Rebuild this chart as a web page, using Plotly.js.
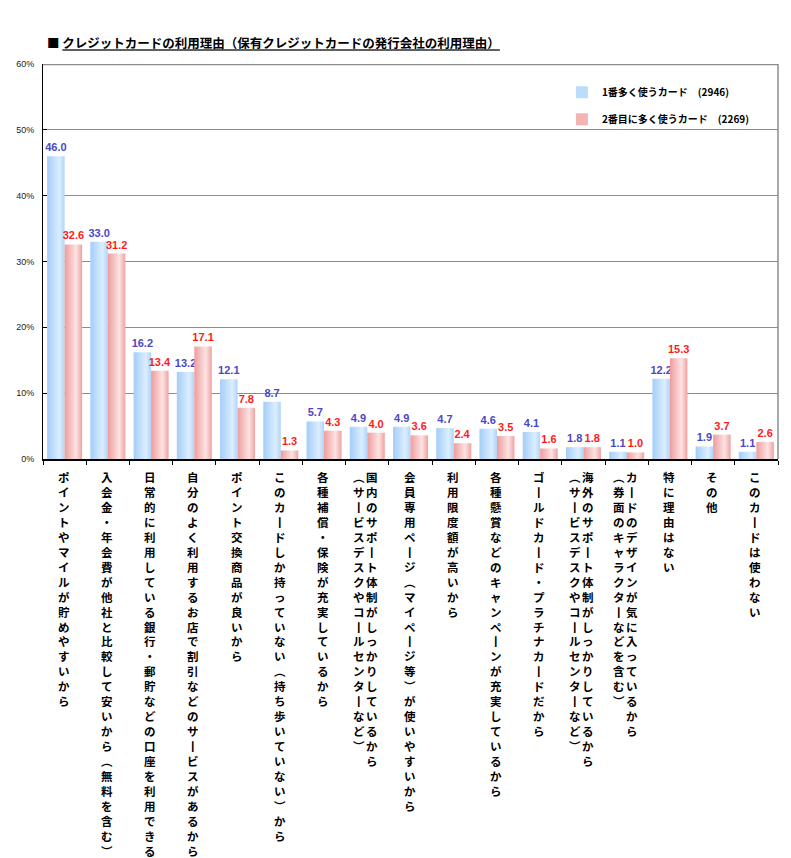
<!DOCTYPE html>
<html>
<head>
<meta charset="utf-8">
<script src="https://cdn.plot.ly/plotly-3.0.1.min.js"></script>
<style>
  html, body { margin: 0; padding: 0; background: #ffffff; }
  #chart { width: 791px; height: 858px; }
</style>
</head>
<body>
<div id="chart"></div>
<script>
// ---------- data ----------
const chartTitle = "クレジットカードの利用理由（保有クレジットカードの発行会社の利用理由）";

const categories = [
  "ポイントやマイルが貯めやすいから",
  "入会金・年会費が他社と比較して安いから（無料を含む）",
  "日常的に利用している銀行・郵貯などの口座を利用できる",
  "自分のよく利用するお店で割引などのサービスがあるから",
  "ポイント交換商品が良いから",
  "このカードしか持っていない（持ち歩いていない）から",
  "各種補償・保険が充実しているから",
  "国内のサポート体制がしっかりしているから",
  "会員専用ページ（マイページ等）が使いやすいから",
  "利用限度額が高いから",
  "各種懸賞などのキャンペーンが充実しているから",
  "ゴールドカード・プラチナカードだから",
  "海外のサポート体制がしっかりしているから",
  "カードのデザインが気に入っているから",
  "特に理由はない",
  "その他",
  "このカードは使わない"
];

const subLabels = [
  "", "", "", "", "", "", "",
  "（サービスデスクやコールセンターなど）",
  "", "", "", "",
  "（サービスデスクやコールセンターなど）",
  "（券面のキャラクターなどを含む）",
  "", "", ""
];

const seriesNames = ["1番多く使うカード　(2946)", "2番目に多く使うカード　(2269)"];

const firstCard  = [46.0, 33.0, 16.2, 13.2, 12.1, 8.7, 5.7, 4.9, 4.9, 4.7, 4.6, 4.1, 1.8, 1.1, 12.2, 1.9, 1.1];
const secondCard = [32.6, 31.2, 13.4, 17.1, 7.8, 1.3, 4.3, 4.0, 3.6, 2.4, 3.5, 1.6, 1.8, 1.0, 15.3, 3.7, 2.6];

const yTickValues = [0, 10, 20, 30, 40, 50, 60];

// ---------- helpers ----------
const verticalForms = { "ー": "丨", "（": "︵", "）": "︶", "(": "︵", ")": "︶" };
function toVertical(s) {
  return Array.from(s).map(c => verticalForms[c] || c).join("<br>");
}

const labelFont = { family: "'Noto Sans CJK JP', sans-serif", size: 11.5, color: "#000000", weight: "bold" };

const annotations = [];
categories.forEach((cat, i) => {
  const hasSub = subLabels[i] !== "";
  annotations.push({
    x: cat, xref: "x", y: 0, yref: "y",
    yanchor: "top", xanchor: "center",
    xshift: hasSub ? 5 : -1, yshift: -8,
    text: toVertical(cat), showarrow: false,
    font: labelFont, align: "center"
  });
  if (hasSub) {
    annotations.push({
      x: cat, xref: "x", y: 0, yref: "y",
      yanchor: "top", xanchor: "center",
      xshift: -8, yshift: -8,
      text: toVertical(subLabels[i]), showarrow: false,
      font: labelFont, align: "center"
    });
  }
});

const traces = [
  {
    type: "bar", name: seriesNames[0], x: categories, y: firstCard,
    marker: { color: "#bcdcfb", line: { width: 0 } },
    text: firstCard.map(v => v.toFixed(1)), textposition: "outside",
    textfont: { family: "Arial, 'Liberation Sans', sans-serif", size: 11, color: "#4a48c4", weight: "bold" },
    constraintext: "none", cliponaxis: false, hoverinfo: "skip",
    legend: "legend"
  },
  {
    type: "bar", name: seriesNames[1], x: categories, y: secondCard,
    marker: { color: "#f4b4b4", line: { width: 0 } },
    text: secondCard.map(v => v.toFixed(1)), textposition: "outside",
    textfont: { family: "Arial, 'Liberation Sans', sans-serif", size: 11, color: "#ff1a1a", weight: "bold" },
    constraintext: "none", cliponaxis: false, hoverinfo: "skip",
    legend: "legend2"
  }
];

const legendFont = { family: "'Noto Sans CJK JP', sans-serif", size: 10, color: "#000000", weight: "bold" };

const layout = {
  width: 791, height: 858,
  paper_bgcolor: "#ffffff", plot_bgcolor: "#ffffff",
  margin: { l: 43, r: 13, t: 64, b: 399, pad: 0 },
  title: {
    text: "■ <u>" + chartTitle + "</u>",
    x: 47 / 791, xanchor: "left", xref: "container",
    y: 1 - 44 / 858, yanchor: "middle", yref: "container",
    font: { family: "'Noto Sans CJK JP', sans-serif", size: 12.5, color: "#000000", weight: "bold" }
  },
  barmode: "group", bargap: 0.19, bargroupgap: 0,
  showlegend: true,
  legend: {
    x: 0.706, xanchor: "left", y: 0.965, yanchor: "top",
    bgcolor: "rgba(0,0,0,0)", font: legendFont, borderwidth: 0
  },
  legend2: {
    x: 0.706, xanchor: "left", y: 0.897, yanchor: "top",
    bgcolor: "rgba(0,0,0,0)", font: legendFont, borderwidth: 0
  },
  xaxis: {
    type: "category", showticklabels: false,
    showline: true, linecolor: "#000000", linewidth: 1.5,
    ticks: "outside", tickson: "boundaries", ticklen: 4, tickcolor: "#000000", tickwidth: 1,
    showgrid: false, zeroline: false, fixedrange: true
  },
  yaxis: {
    range: [0, 60], tickvals: yTickValues, ticktext: yTickValues.map(v => v + "%"),
    showline: true, linecolor: "#000000", linewidth: 1,
    ticks: "inside", ticklen: 4, tickcolor: "#000000",
    showgrid: true, gridcolor: "#8c8c8c", gridwidth: 1,
    zeroline: false, fixedrange: true,
    tickfont: { family: "Arial, 'Liberation Sans', sans-serif", size: 9, color: "#222222" },
    ticklabelstandoff: 6
  },
  shapes: [
    { type: "line", xref: "paper", yref: "y", x0: 0, x1: 1, y0: 60, y1: 60,
      line: { color: "#8c8c8c", width: 2.5 }, layer: "above" },
    { type: "line", xref: "paper", yref: "paper", x0: 1, x1: 1, y0: 0, y1: 1,
      line: { color: "#8c8c8c", width: 1.5 }, layer: "above" }
  ],
  annotations: annotations
};

Plotly.newPlot("chart", traces, layout, { staticPlot: true, displayModeBar: false }).then(gd => {
  // horizontal gradient fill on bars, as in the reference
  const svg = gd.querySelector("svg.main-svg");
  let defs = svg.querySelector("defs");
  const ns = "http://www.w3.org/2000/svg";
  function addGrad(id, stops) {
    const g = document.createElementNS(ns, "linearGradient");
    g.setAttribute("id", id);
    g.setAttribute("x1", "0"); g.setAttribute("x2", "1");
    g.setAttribute("y1", "0"); g.setAttribute("y2", "0");
    stops.forEach(s => {
      const st = document.createElementNS(ns, "stop");
      st.setAttribute("offset", s[0]);
      st.setAttribute("stop-color", s[1]);
      g.appendChild(st);
    });
    defs.appendChild(g);
  }
  addGrad("gradBlue", [[0, "#a4cdf8"], [0.7, "#dbeeff"], [1, "#b0d4fa"]]);
  addGrad("gradRed", [[0, "#ee9c9c"], [0.65, "#fde3e3"], [1, "#efa2a2"]]);
  const bartraces = gd.querySelectorAll(".barlayer .trace");
  bartraces.forEach((t, i) => {
    t.querySelectorAll(".point path").forEach(p => {
      p.style.fill = i === 0 ? "url(#gradBlue)" : "url(#gradRed)";
    });
  });
});
</script>
</body>
</html>
